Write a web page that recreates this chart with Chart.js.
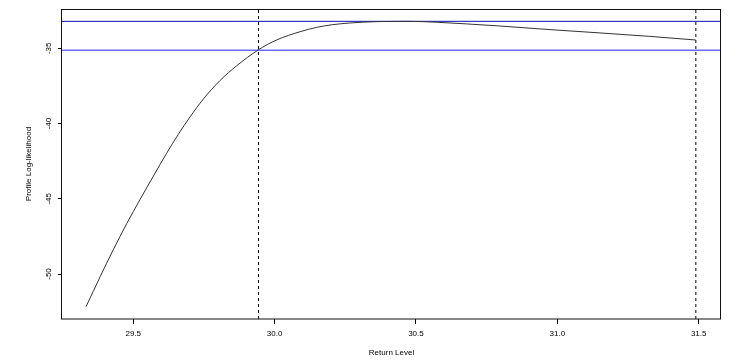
<!DOCTYPE html>
<html>
<head>
<meta charset="utf-8">
<script src="https://cdn.jsdelivr.net/npm/chart.js@4/dist/chart.umd.min.js"></script>
<style>
  body { margin: 0; background: #fff; }
  #wrap { width: 750px; height: 362px; }
</style>
</head>
<body>
<div id="wrap"><canvas id="chart" width="750" height="362"></canvas></div>
<script>
// profile likelihood curve
const returnLevel = [29.333, 29.383, 29.429, 29.477, 29.524, 29.571, 29.618, 29.659, 29.701, 29.748,
  29.807, 29.866, 29.942, 30.007, 30.090, 30.149, 30.206, 30.266, 30.361, 30.479,
  30.573, 30.679, 30.797, 30.974, 31.151, 31.327, 31.490];
const profileLL = [-52.17, -50.18, -48.40, -46.65, -45.05, -43.50, -41.98, -40.73, -39.56, -38.37,
  -37.14, -36.16, -35.11, -34.45, -33.90, -33.61, -33.43, -33.32, -33.23, -33.21,
  -33.27, -33.38, -33.52, -33.76, -33.98, -34.21, -34.45];

const maxLL = -33.21;        // maximum of the profile
const ciLevel = -35.13;      // maxLL - chi2(0.95,1)/2
const ciBounds = [29.943, 31.49];

const xTicks = [29.5, 30.0, 30.5, 31.0, 31.5];
const yTicks = [-35, -40, -45, -50];
const xRange = [29.248, 31.579];
const yRange = [-52.99, -32.39];

const font = { family: "'Liberation Sans', Arial, sans-serif", size: 8 };

const boxPlugin = {
  id: 'box',
  afterDraw(chart) {
    const { ctx, chartArea: a } = chart;
    ctx.save();
    ctx.strokeStyle = '#111';
    ctx.lineWidth = 1;
    ctx.strokeRect(Math.round(a.left) - 0.5, Math.round(a.top) + 0.5,
      Math.round(a.right - a.left), Math.round(a.bottom - a.top) - 0.5);
    ctx.restore();
  }
};

new Chart(document.getElementById('chart').getContext('2d'), {
  type: 'scatter',
  data: {
    datasets: [
      {
        label: 'profile',
        data: returnLevel.map((x, i) => ({ x: x, y: profileLL[i] })),
        showLine: true,
        borderColor: '#333',
        borderWidth: 1,
        pointRadius: 0,
        cubicInterpolationMode: 'monotone'
      },
      {
        label: 'max',
        data: [{ x: xRange[0], y: maxLL }, { x: xRange[1], y: maxLL }],
        showLine: true,
        borderColor: '#0c0cc0',
        borderWidth: 1,
        pointRadius: 0
      },
      {
        label: 'ci',
        data: [{ x: xRange[0], y: ciLevel }, { x: xRange[1], y: ciLevel }],
        showLine: true,
        borderColor: '#6a6aff',
        borderWidth: 1.5,
        pointRadius: 0
      },
      {
        label: 'lower',
        data: [{ x: ciBounds[0], y: yRange[0] }, { x: ciBounds[0], y: yRange[1] }],
        showLine: true,
        borderColor: '#000',
        borderWidth: 1,
        borderDash: [3, 3],
        pointRadius: 0
      },
      {
        label: 'upper',
        data: [{ x: ciBounds[1], y: yRange[0] }, { x: ciBounds[1], y: yRange[1] }],
        showLine: true,
        borderColor: '#000',
        borderWidth: 1,
        borderDash: [3, 3],
        pointRadius: 0
      }
    ]
  },
  options: {
    responsive: false,
    animation: false,
    layout: { padding: { left: 0, top: 9, right: 29, bottom: 0 } },
    plugins: { legend: { display: false }, tooltip: { enabled: false } },
    scales: {
      x: {
        type: 'linear',
        min: xRange[0],
        max: xRange[1],
        afterBuildTicks: (s) => { s.ticks = xTicks.map(v => ({ value: v })); },
        afterFit: (s) => { s.height = 43; },
        grid: { drawOnChartArea: false, drawTicks: true, tickLength: 5, color: '#000' },
        border: { display: false },
        ticks: {
          font: font, color: '#000', padding: 5,
          maxRotation: 0,
          callback: (v) => v.toFixed(1)
        },
        title: { display: true, text: 'Return Level', font: font, color: '#000', padding: { top: 0, bottom: 4 } }
      },
      y: {
        type: 'linear',
        min: yRange[0],
        max: yRange[1],
        afterBuildTicks: (s) => { s.ticks = yTicks.map(v => ({ value: v })); },
        afterFit: (s) => { s.width = 62; },
        grid: { drawOnChartArea: false, drawTicks: true, tickLength: 4, color: '#000' },
        border: { display: false },
        ticks: {
          font: font, color: '#000', padding: 3,
          minRotation: 90, maxRotation: 90, crossAlign: 'center',
          callback: (v) => String(v)
        },
        title: { display: true, text: 'Profile Log-likelihood', font: font, color: '#000', padding: { top: 24, bottom: 0 } }
      }
    }
  },
  plugins: [boxPlugin]
});
</script>
</body>
</html>
